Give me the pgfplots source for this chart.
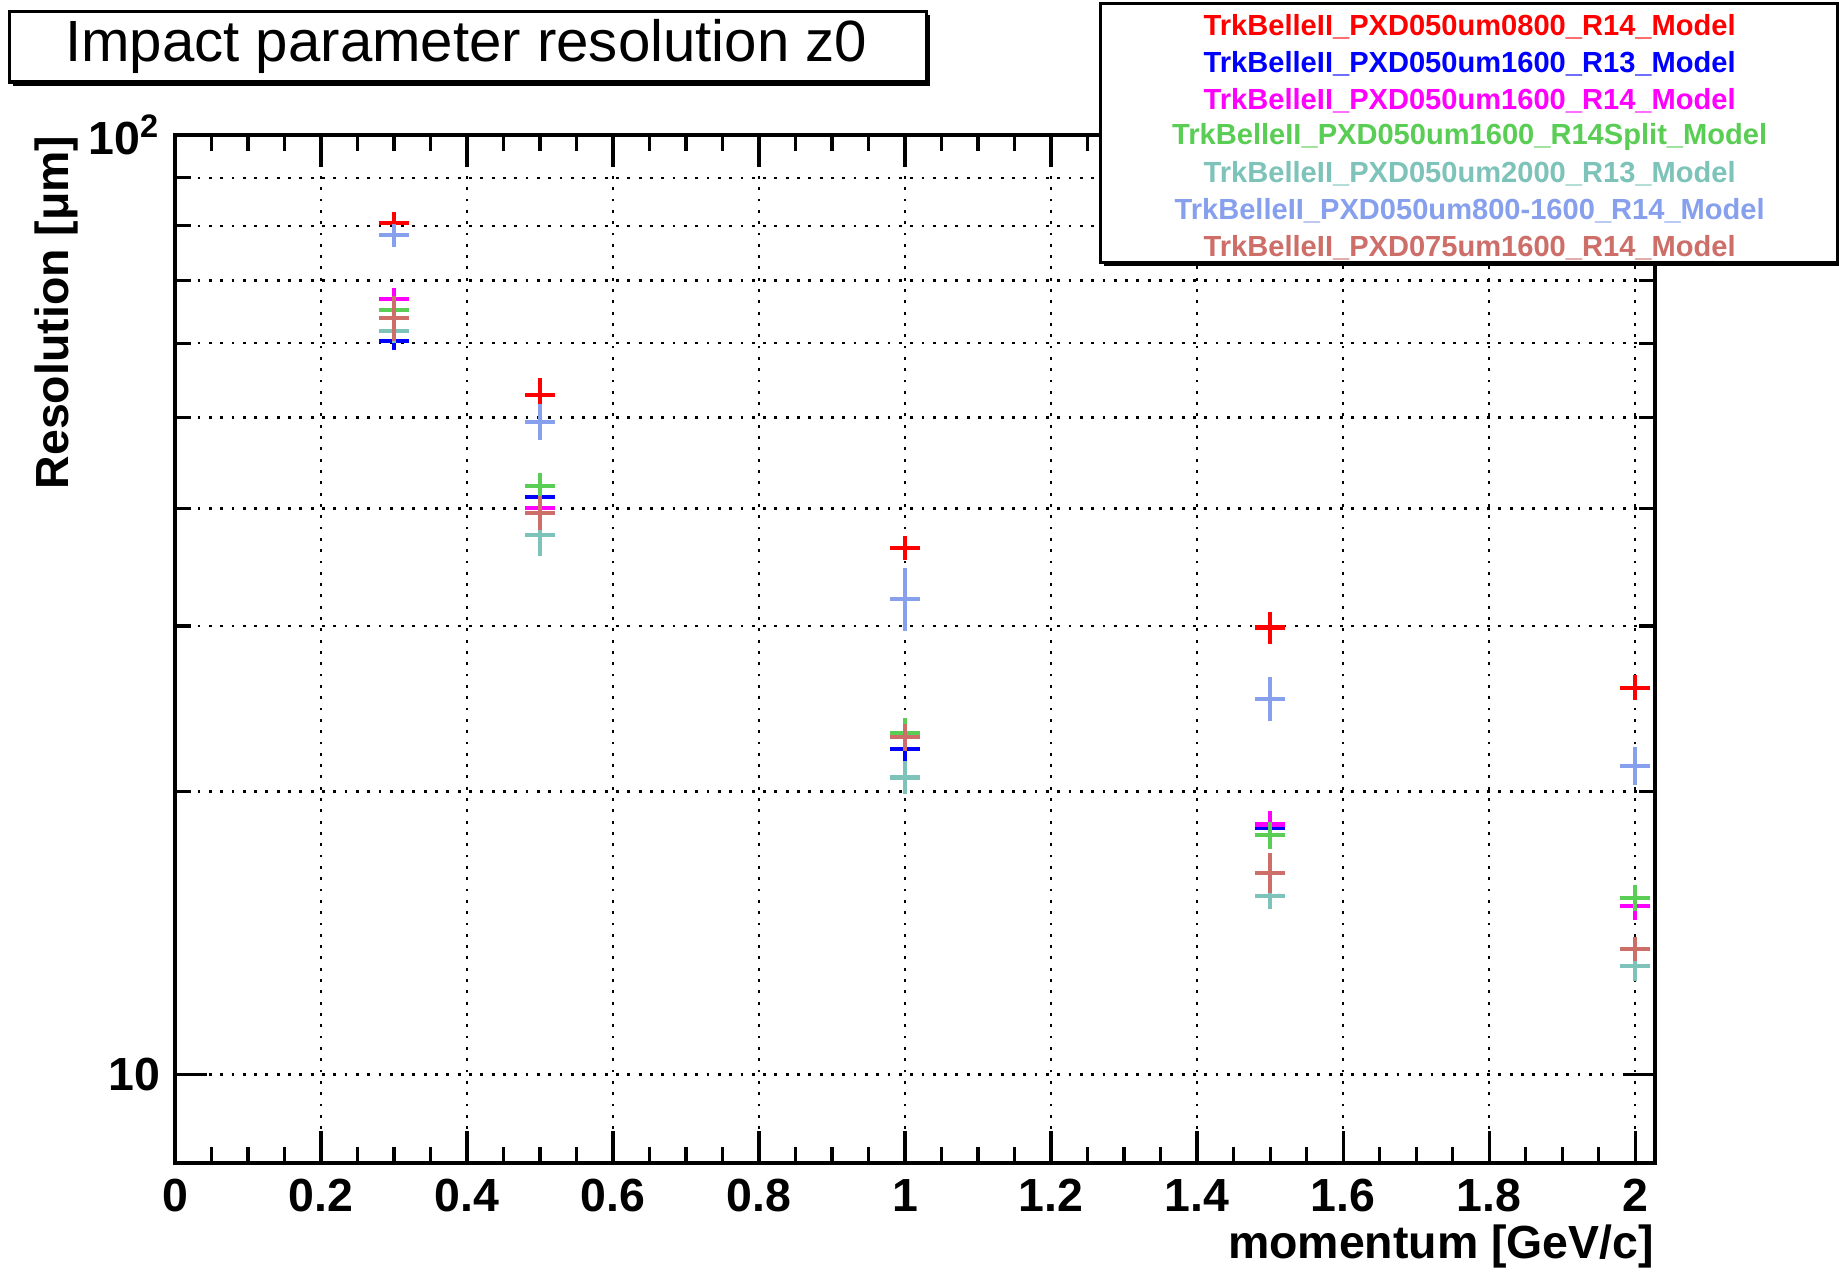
\documentclass[border=0pt]{standalone}
\usepackage{pgfplots}
\pgfplotsset{compat=1.18}
\usepackage{fontspec}
\setmainfont{Liberation Sans}

\definecolor{cred}{RGB}{255,0,0}
\definecolor{cblue}{RGB}{0,0,255}
\definecolor{cmag}{RGB}{255,0,255}
\definecolor{cgreen}{RGB}{89,205,84}
\definecolor{cteal}{RGB}{125,195,185}
\definecolor{clblue}{RGB}{135,160,238}
\definecolor{cbrown}{RGB}{205,110,105}

\newcommand{\lblfont}{\fontsize{11.5}{12}\selectfont\bfseries}
\newcommand{\legfont}{\fontsize{7.2}{8}\selectfont\bfseries}

% empty plot mark, only the error crosses are drawn
\pgfdeclareplotmark{nothing}{}

\pgfplotsset{
  errpts/.style={
    only marks, mark=nothing, line width=1pt,
    error bars/.cd,
      x dir=both, x explicit,
      y dir=both, y explicit,
      error mark=-,
      error mark options={line width=1pt, mark size=1.6pt},
      error bar style={line width=1pt},
  },
}

\begin{document}
\begin{tikzpicture}
\begin{axis}[
  scale only axis,
  width=12.875cm, height=8.944cm,
  at={(0,0)}, anchor=south west,
  xmin=0, xmax=2.027,
  ymode=log, ymin=8.05, ymax=100,
  xtick={0,0.2,0.4,0.6,0.8,1,1.2,1.4,1.6,1.8,2},
  minor x tick num=3,
  ytick={10,100},
  yticklabels={10,10\textsuperscript{2}},
  /pgf/number format/assume math mode=true,
  xticklabel style={font=\lblfont, anchor=center, inner sep=0pt, yshift=-0.28cm},
  yticklabel style={font=\lblfont, anchor=east, inner sep=0pt, xshift=-0.12cm},
  major tick length=0.28cm,
  minor tick length=0.14cm,
  tick style={black, line width=0.8pt},
  axis line style={line width=0.9pt},
  xmajorgrids, ymajorgrids, yminorgrids,
  grid style={black, line width=0.6pt, dash pattern=on 0.7pt off 2.1pt},
  minor grid style={black, line width=0.6pt, dash pattern=on 0.7pt off 2.1pt},
  clip=false,
]

% TrkBelleII_PXD050um0800_R14_Model
\addplot[color=cred, errpts] coordinates {
  (0.3,80.5) +- (0.012,1.0)
  (0.5,52.9) +- (0.012,1.3)
  (1.0,36.3) +- (0.012,0.5)
  (1.5,29.9) +- (0.012,0.7)
  (2.0,25.8) +- (0.012,0.4)
};
% TrkBelleII_PXD050um1600_R13_Model
\addplot[color=cblue, errpts] coordinates {
  (0.3,60.4) +- (0.012,0.5)
  (0.5,41.2) +- (0.012,0.6)
  (1.0,22.2) +- (0.012,0.4)
  (1.5,18.3) +- (0.012,0.3)
  (2.0,15.1) +- (0.012,0.25)
};
% TrkBelleII_PXD050um1600_R14_Model
\addplot[color=cmag, errpts] coordinates {
  (0.3,66.8) +- (0.012,0.8)
  (0.5,40.1) +- (0.012,0.7)
  (1.0,23.0) +- (0.012,0.4)
  (1.5,18.45) +- (0.012,0.3)
  (2.0,15.1) +- (0.012,0.25)
};
% TrkBelleII_PXD050um1600_R14Split_Model
\addplot[color=cgreen, errpts] coordinates {
  (0.3,65.1) +- (0.012,0.8)
  (0.5,42.3) +- (0.012,0.7)
  (1.0,23.1) +- (0.012,0.45)
  (1.5,17.97) +- (0.012,0.3)
  (2.0,15.4) +- (0.012,0.25)
};
% TrkBelleII_PXD050um2000_R13_Model
\addplot[color=cteal, errpts] coordinates {
  (0.3,61.8) +- (0.012,0.8)
  (0.5,37.5) +- (0.012,1.3)
  (1.0,20.7) +- (0.012,0.5)
  (1.5,15.48) +- (0.012,0.25)
  (2.0,13.03) +- (0.012,0.27)
};
% TrkBelleII_PXD050um800-1600_R14_Model
\addplot[color=clblue, errpts] coordinates {
  (0.3,78.2) +- (0.012,1.0)
  (0.5,49.5) +- (0.012,1.4)
  (1.0,32.1) +- (0.012,1.95)
  (1.5,25.1) +- (0.012,0.95)
  (2.0,21.3) +- (0.012,0.66)
};
% TrkBelleII_PXD075um1600_R14_Model
\addplot[color=cbrown, errpts] coordinates {
  (0.3,63.8) +- (0.012,2.5)
  (0.5,39.6) +- (0.012,1.0)
  (1.0,22.85) +- (0.012,0.4)
  (1.5,16.39) +- (0.012,0.54)
  (2.0,13.6) +- (0.012,0.2)
};
\end{axis}

% axis titles
\node[rotate=90, anchor=east, inner sep=0pt, font=\lblfont] at (-1.031,8.944) {Resolution [μm]};
\node[anchor=east, inner sep=0pt, font=\lblfont] at (12.875,-0.73) {momentum [GeV/c]};

% title box
\fill[black] (-1.411,9.373) rectangle (6.569,9.985);
\draw[line width=0.8pt, fill=white] (-1.441,9.403) rectangle (6.539,10.015);
\node[font=\fontsize{14.4}{16}\selectfont] at (2.534,9.709) {Impact parameter resolution z0};

% legend box
\fill[black] (8.079,7.802) rectangle (14.497,10.057);
\draw[line width=0.8pt, fill=white] (8.049,7.832) rectangle (14.467,10.087);
\node[font=\legfont, text=cred]   at (11.264,9.883) {TrkBelleII\_PXD050um0800\_R14\_Model};
\node[font=\legfont, text=cblue]  at (11.264,9.563) {TrkBelleII\_PXD050um1600\_R13\_Model};
\node[font=\legfont, text=cmag]   at (11.264,9.244) {TrkBelleII\_PXD050um1600\_R14\_Model};
\node[font=\legfont, text=cgreen] at (11.264,8.924) {TrkBelleII\_PXD050um1600\_R14Split\_Model};
\node[font=\legfont, text=cteal]  at (11.264,8.605) {TrkBelleII\_PXD050um2000\_R13\_Model};
\node[font=\legfont, text=clblue] at (11.264,8.285) {TrkBelleII\_PXD050um800-1600\_R14\_Model};
\node[font=\legfont, text=cbrown] at (11.264,7.965) {TrkBelleII\_PXD075um1600\_R14\_Model};

\pgfresetboundingbox
\useasboundingbox (-1.522,-0.944) rectangle (14.477,10.117);
\end{tikzpicture}
\end{document}
